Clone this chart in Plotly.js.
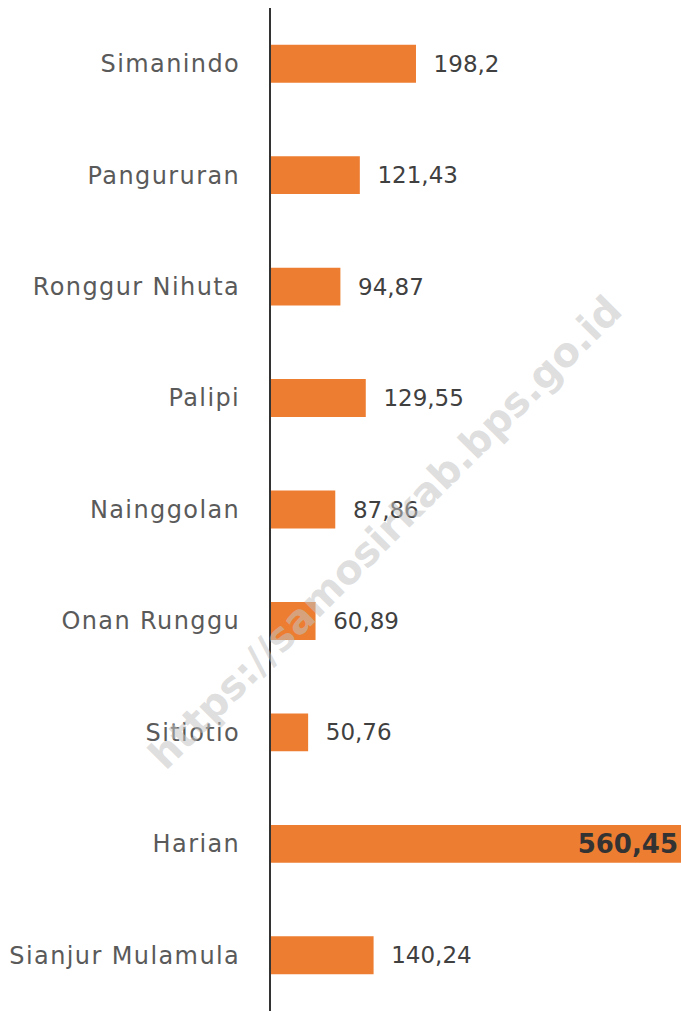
<!DOCTYPE html>
<html>
<head>
<meta charset="utf-8">
<script src="https://cdn.plot.ly/plotly-3.0.1.min.js"></script>
<style>html,body{margin:0;padding:0;background:#fff;}#chart{width:681px;height:1011px;}
#chart .ytick text{letter-spacing:1.4px;}</style>
</head>
<body>
<div id="chart"></div>
<script>
const categories = ["Simanindo","Pangururan","Ronggur Nihuta","Palipi","Nainggolan","Onan Runggu","Sitiotio","Harian","Sianjur Mulamula"];
const values = [198.2,121.43,94.87,129.55,87.86,60.89,50.76,560.45,140.24];
const valueLabels = ["198,2","121,43","94,87","129,55","87,86","60,89","50,76","560,45","140,24"];
const watermark = "https://samosirkab.bps.go.id";

const FONT = "'DejaVu Sans', sans-serif";
const maxV = Math.max(...values);
const positions = values.map(v => v === maxV ? "inside" : "outside");
const texts = valueLabels.map((t, i) => values[i] === maxV ? "<b>" + t + "</b>" : "\u00a0\u00a0" + t);

const trace = {
  type: "bar",
  orientation: "h",
  x: values,
  y: categories,
  marker: {color: "#ED7D31"},
  text: texts,
  textposition: positions,
  insidetextanchor: "end",
  cliponaxis: false,
  textfont: {family: FONT, size: 23, color: "#404040"},
  insidetextfont: {family: FONT, size: 26, color: "#333333"},
  outsidetextfont: {family: FONT, size: 23, color: "#404040"},
  hoverinfo: "none"
};

const layout = {
  width: 681, height: 1011,
  margin: {l: 271, r: 0, t: 8, b: 0},
  paper_bgcolor: "#fff", plot_bgcolor: "#fff",
  bargap: 0.66,
  showlegend: false,
  xaxis: {range: [0, maxV], showgrid: false, zeroline: false, showticklabels: false, showline: false, fixedrange: true},
  yaxis: {autorange: "reversed", showgrid: false, zeroline: false, showline: true, linecolor: "#333", linewidth: 2,
          ticks: "", ticklabelstandoff: 24,
          tickfont: {family: FONT, size: 24, color: "#5a5a5a"}},
  annotations: [{
    text: "<b>" + watermark + "</b>", xref: "paper", yref: "paper", x: 0.278, y: 0.478,
    xanchor: "center", yanchor: "middle",
    showarrow: false, textangle: -45, font: {family: FONT, size: 40, color: "rgba(195,195,195,0.55)"}
  }]
};

Plotly.newPlot("chart", [trace], layout, {staticPlot: true});
</script>
</body>
</html>
